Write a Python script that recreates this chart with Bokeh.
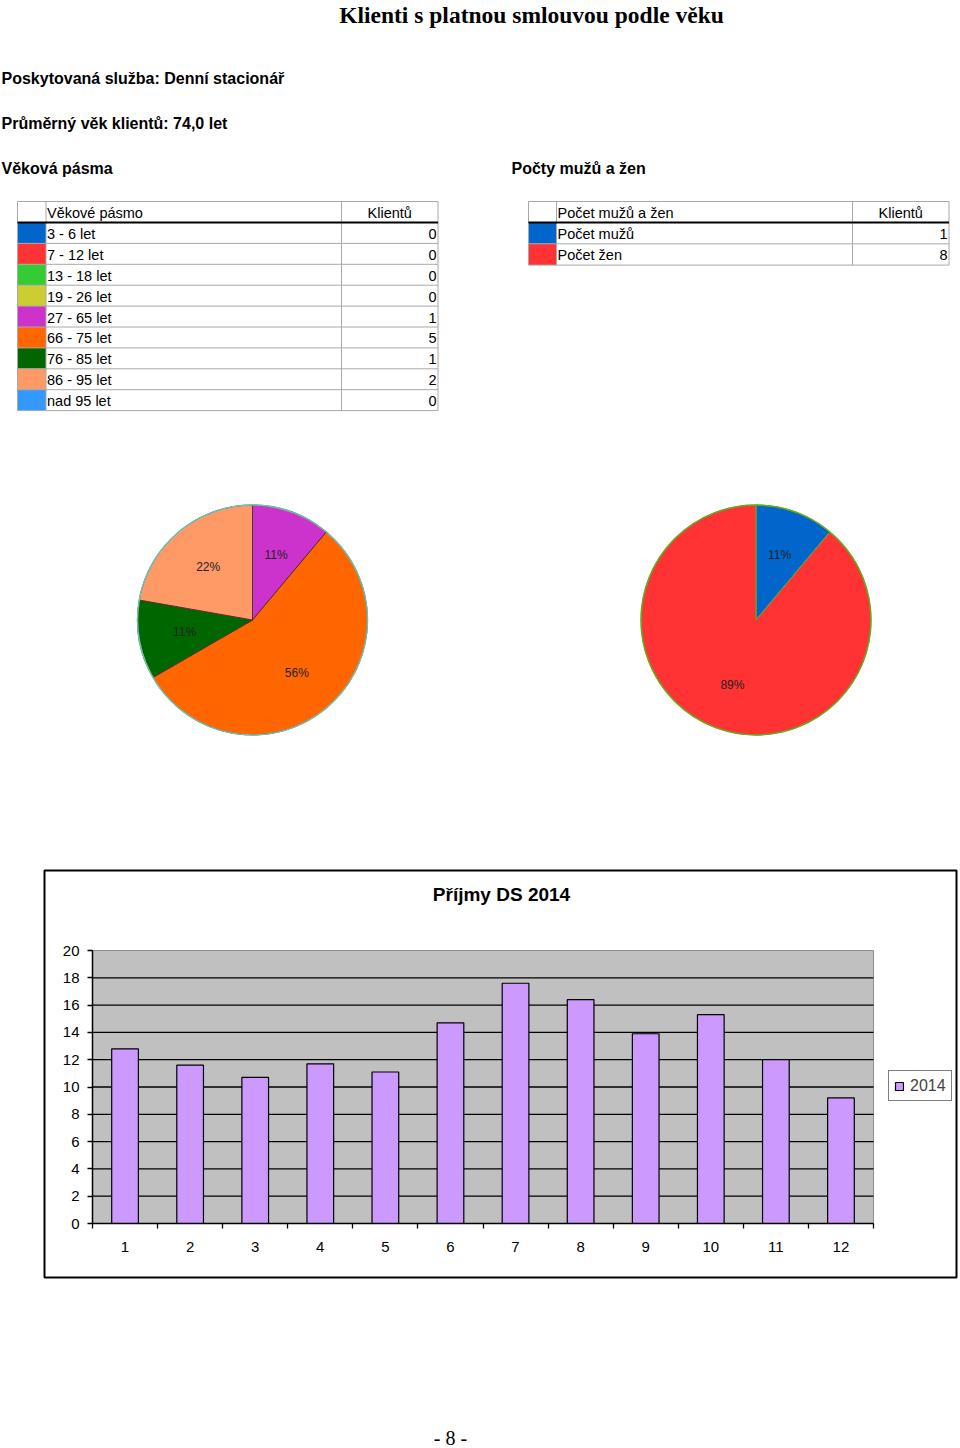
import math
from bokeh.plotting import figure
from bokeh.models import Range1d, Legend, LegendItem, FixedTicker, LinearAxis
from bokeh.core.properties import value
from bokeh.embed import file_html
from bokeh.resources import INLINE

# ---------------- data ----------------
page_title = "Klienti s platnou smlouvou podle věku"
service_text = "Poskytovaná služba: Denní stacionář"
avg_age_text = "Průměrný věk klientů: 74,0 let"
age_section = "Věková pásma"
sex_section = "Počty mužů a žen"

age_header = ["Věkové pásmo", "Klientů"]
age_bands = ["3 - 6 let", "7 - 12 let", "13 - 18 let", "19 - 26 let", "27 - 65 let",
             "66 - 75 let", "76 - 85 let", "86 - 95 let", "nad 95 let"]
age_counts = [0, 0, 0, 0, 1, 5, 1, 2, 0]
age_colors = ["#0066cc", "#ff3333", "#33cc33", "#cccc33", "#cc33cc",
              "#ff6600", "#006600", "#ff9966", "#3399ff"]

sex_header = ["Počet mužů a žen", "Klientů"]
sex_labels = ["Počet mužů", "Počet žen"]
sex_counts = [1, 8]
sex_colors = ["#0066cc", "#ff3333"]

bar_title = "Příjmy DS 2014"
months = [1, 2, 3, 4, 5, 6, 7, 8, 9, 10, 11, 12]
income_2014 = [12.8, 11.6, 10.7, 11.7, 11.1, 14.7, 17.6, 16.4, 13.9, 15.3, 12.0, 9.2]
series_name = "2014"
y_ticks = [0, 2, 4, 6, 8, 10, 12, 14, 16, 18, 20]
footer_text = "- 8 -"

SANS = "Liberation Sans"
SERIF = "Liberation Serif"

W, H = 960, 1448

# ---------------- one page-sized figure (page pixel coordinates) ----------------
p = figure(width=W, height=H, x_range=Range1d(0, W), y_range=Range1d(H, 0),
           output_backend="svg", toolbar_location=None,
           x_axis_location=None, y_axis_location=None,
           min_border=0, outline_line_color=None, background_fill_color="white",
           border_fill_color="white")
p.grid.visible = False

# headings
p.text(x=[531], y=[14], text=[page_title], text_font=value(SERIF), text_font_style="bold",
       text_font_size="23.5px", text_align="center", text_baseline="middle", text_color="black")
p.text(x=[1, 1, 1, 511], y=[78, 123, 168, 168],
       text=[service_text, avg_age_text, age_section, sex_section],
       text_font=value(SANS), text_font_style="bold", text_font_size="16px",
       text_align="left", text_baseline="middle", text_color="black")


def draw_table(xs, y0, hh, rh, header, labels, counts, colors):
    x0, xc, xd, x1 = xs
    n = len(labels)
    tops = [y0 + hh + i * rh for i in range(n)]
    bots = [t + rh for t in tops]
    mids = [(t + b) / 2 + 1 for t, b in zip(tops, bots)]
    p.quad(left=x0, right=xc, top=tops, bottom=bots, fill_color=colors, line_color=None)
    grid = "#a8a8a8"
    hy = [y0] + bots
    p.segment(x0=[x0] * len(hy), x1=[x1] * len(hy), y0=hy, y1=hy, line_color=grid, line_width=1)
    vx = [x0, xc, xd, x1]
    p.segment(x0=vx, x1=vx, y0=[y0] * 4, y1=[bots[-1]] * 4, line_color=grid, line_width=1)
    p.segment(x0=[x0], x1=[x1], y0=[y0 + hh], y1=[y0 + hh], line_color="black", line_width=2.2)
    fs = "14.5px"
    p.text(x=[xc + 1], y=[y0 + hh / 2 + 1], text=[header[0]], text_font=value(SANS),
           text_font_size=fs, text_align="left", text_baseline="middle", text_color="black")
    p.text(x=[(xd + x1) / 2], y=[y0 + hh / 2 + 1], text=[header[1]], text_font=value(SANS),
           text_font_size=fs, text_align="center", text_baseline="middle", text_color="black")
    p.text(x=[xc + 1] * n, y=mids, text=labels, text_font=value(SANS),
           text_font_size=fs, text_align="left", text_baseline="middle", text_color="black")
    p.text(x=[x1 - 1.5] * n, y=mids, text=[str(c) for c in counts], text_font=value(SANS),
           text_font_size=fs, text_align="right", text_baseline="middle", text_color="black")


draw_table((17, 45.5, 341, 437.5), 201, 21, 20.9, age_header, age_bands, age_counts, age_colors)
draw_table((528, 556, 852, 948.5), 201, 21, 21.3, sex_header, sex_labels, sex_counts, sex_colors)


def draw_pie(cx, cy, r, counts, colors, edge, rim):
    total = float(sum(counts))
    starts, ends, fills, lx, ly, txt = [], [], [], [], [], []
    cum = 0
    for c, col in zip(counts, colors):
        if c <= 0:
            continue
        a0 = math.pi / 2 - 2 * math.pi * cum / total
        a1 = math.pi / 2 - 2 * math.pi * (cum + c) / total
        mid = (a0 + a1) / 2
        starts.append(a0)
        ends.append(a1)
        fills.append(col)
        lx.append(cx + 0.6 * r * math.cos(mid))
        ly.append(cy - 0.6 * r * math.sin(mid))
        txt.append("%d%%" % round(100 * c / total))
        cum += c
    p.wedge(x=cx, y=cy, radius=r, start_angle=starts, end_angle=ends, direction="clock",
            fill_color=fills, line_color=edge, line_width=1)
    p.circle(x=[cx], y=[cy], radius=r, fill_color=None, line_color=rim, line_width=1.5)
    p.text(x=lx, y=ly, text=txt, text_font=value(SANS), text_font_size="12px",
           text_align="center", text_baseline="middle", text_color="#222222")


draw_pie(252, 619.5, 115, age_counts, age_colors, "#5a2f2f", "#6fc2b0")
draw_pie(755.5, 619.5, 115, sex_counts, sex_colors, "#66aa22", "#66aa22")

# ---------------- bar chart (own scales mapped onto the page) ----------------
PX0, PX1 = 92.0, 873.0      # page x of plot-area left / right
PY0, PY1 = 1223.0, 950.0    # page y of value 0 / value 20
bounds = [m - 0.5 for m in months] + [months[-1] + 0.5]
xlo, xhi = bounds[0], bounds[-1]
ylo, yhi = y_ticks[0], y_ticks[-1]
ux = (PX1 - PX0) / (xhi - xlo)
uy = (PY0 - PY1) / (yhi - ylo)
p.extra_x_ranges = {"bx": Range1d(xlo - PX0 / ux, xhi + (W - PX1) / ux)}
p.extra_y_ranges = {"by": Range1d(ylo - (H - PY0) / uy, yhi + PY1 / uy)}

# outer chart border and title (page coordinates)
p.quad(left=[44], right=[956], top=[870], bottom=[1277], fill_color=None,
       line_color="black", line_width=2)
p.text(x=[501], y=[894], text=[bar_title], text_font=value(SANS), text_font_style="bold",
       text_font_size="19px", text_align="center", text_baseline="middle", text_color="black")

BR = dict(x_range_name="bx", y_range_name="by")
p.quad(left=[xlo], right=[xhi], bottom=[ylo], top=[yhi], fill_color="#c0c0c0",
       line_color="#8c8c8c", line_width=1, **BR)
inner = y_ticks[1:-1]
p.segment(x0=[xlo] * len(inner), x1=[xhi] * len(inner), y0=inner, y1=inner,
          line_color="black", line_width=1.3, **BR)
vb = p.vbar(x=months, top=income_2014, width=0.41, fill_color="#cc99ff",
            line_color="black", line_width=1.2, **BR)

yax = LinearAxis(x_range_name="bx", y_range_name="by", fixed_location=xlo, bounds=(ylo, yhi),
                 ticker=FixedTicker(ticks=y_ticks))
yax.axis_line_color = "black"
yax.axis_line_width = 1.5
yax.major_tick_out = 5
yax.major_tick_in = 0
yax.major_tick_line_width = 1.3
yax.minor_tick_line_color = None
yax.major_label_standoff = 8
yax.major_label_text_font = SANS
yax.major_label_text_font_size = "15px"
yax.major_label_text_color = "black"
p.add_layout(yax, "left")

xax = LinearAxis(x_range_name="bx", y_range_name="by", fixed_location=ylo, bounds=(xlo, xhi),
                 ticker=FixedTicker(ticks=months, minor_ticks=bounds))
xax.axis_line_color = "black"
xax.axis_line_width = 1.5
xax.major_tick_out = 0
xax.major_tick_in = 0
xax.major_tick_line_color = None
xax.minor_tick_out = 5
xax.minor_tick_in = 0
xax.minor_tick_line_color = "black"
xax.minor_tick_line_width = 1.3
xax.major_label_standoff = 13
xax.major_label_text_font = SANS
xax.major_label_text_font_size = "15px"
xax.major_label_text_color = "black"
p.add_layout(xax, "below")

legend = Legend(items=[LegendItem(label=series_name, renderers=[vb])], location=(888, H - 1101),
                margin=0, padding=5, glyph_width=10, glyph_height=10, label_standoff=6,
                label_height=19, label_text_font=SANS, label_text_font_size="16px",
                border_line_color="black", border_line_width=1.5,
                background_fill_color="white", background_fill_alpha=1.0)
p.add_layout(legend)

# footer
p.text(x=[450], y=[1437], text=[footer_text], text_font=value(SERIF), text_font_size="20px",
       text_align="center", text_baseline="middle", text_color="black")

open("out.html", "w").write(file_html(p, INLINE))
